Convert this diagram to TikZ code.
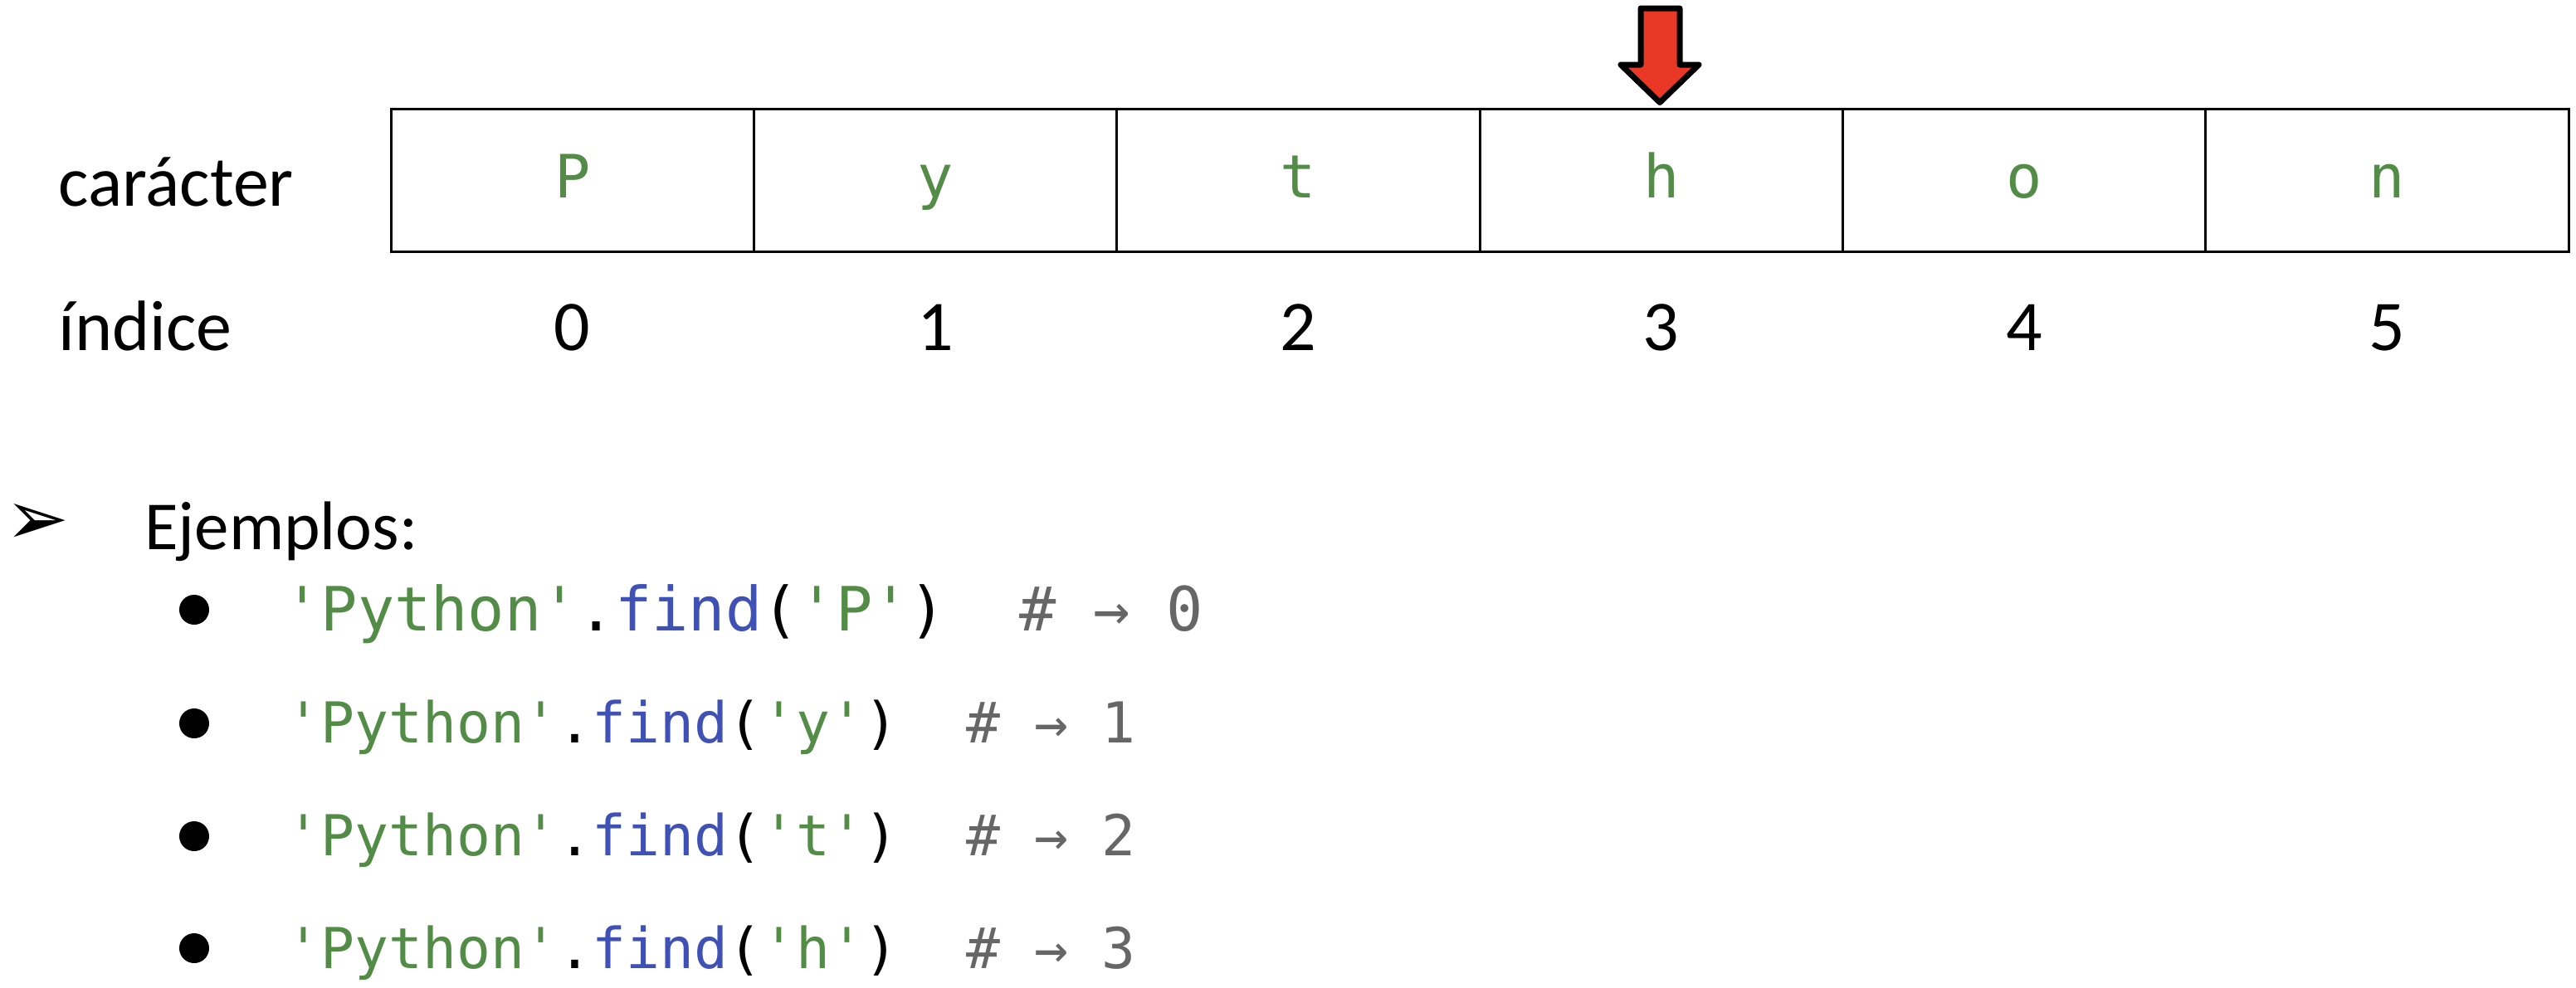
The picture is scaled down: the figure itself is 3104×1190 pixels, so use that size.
\documentclass[tikz,border=0pt]{standalone}
\usepackage{fontspec}
\setmainfont{Carlito}
\newfontfamily\codefont{DejaVu Sans Mono}
\newfontfamily\symfont{DejaVu Sans}
\definecolor{codegreen}{RGB}{82,140,70}
\definecolor{codeblue}{RGB}{63,81,181}
\definecolor{codegrey}{RGB}{102,102,102}
\definecolor{arrowred}{RGB}{233,56,38}
\tikzset{
  cell/.style={draw, line width=1.5pt, minimum width=218.67pt, minimum height=86pt, inner sep=0pt},
  celltxt/.style={anchor=base, inner sep=0pt, text=codegreen, font=\codefont\fontsize{36}{40}\selectfont},
  idx/.style={anchor=base, inner sep=0pt, font=\fontsize{43}{48}\selectfont},
  lbl/.style={anchor=base west, inner sep=0pt, font=\fontsize{43}{48}\selectfont},
  head/.style={anchor=base west, inner sep=0pt, font=\fontsize{41.5}{46}\selectfont},
  codeA/.style={anchor=base west, inner sep=0pt, font=\codefont\fontsize{36.8}{40}\selectfont},
  codeB/.style={anchor=base west, inner sep=0pt, font=\codefont\fontsize{34}{38}\selectfont},
  dot/.style={circle, fill=black, inner sep=0pt, minimum size=18pt},
  ptr/.style={draw=black, fill=arrowred, line width=3.5pt, line join=round},
}
\newcommand{\gr}[1]{\textcolor{codegreen}{#1}}
\newcommand{\bl}[1]{\textcolor{codeblue}{#1}}
\newcommand{\cm}[1]{\textcolor{codegrey}{#1}}
\begin{document}
\begin{tikzpicture}[x=0.5pt,y=-0.5pt]
\useasboundingbox (0,0) rectangle (3104,1190);
% table cells
\foreach \i/\ch in {0/P,1/y,2/t,3/h,4/o,5/n}{
  \node[cell] (c\i) at ({471+437.33*(\i+0.5)},217) {};
  \node[celltxt] (t\i) at ({471+437.33*(\i+0.5)},238) {\ch};
  \node[idx] (n\i) at ({471+437.33*(\i+0.5)},422) {\i};
}
\node[lbl] (lchar) at (70,248) {carácter};
\node[lbl] (lidx) at (70,422) {índice};
% pointer arrow
\draw[ptr] (1977,10) -- (2024,10) -- (2024,78) -- (2047,78) -- (2000,123.5) -- (1953,78) -- (1977,78) -- cycle;
% examples
\node[anchor=center, inner sep=0pt, font=\symfont\fontsize{46}{50}\selectfont] (arr) at (45,632) {➢};
\node[head] (ej) at (174,662) {Ejemplos:};
\node[dot] (d1) at (234,735) {};
\node[dot] (d2) at (234,872) {};
\node[dot] (d3) at (234,1008) {};
\node[dot] (d4) at (234,1143) {};
\node[codeA] (e1) at (342,760) {\gr{'Python'}.\bl{find}(\gr{'P'})\ \ \cm{\# → 0}};
\node[codeB] (e2) at (345,895) {\gr{'Python'}.\bl{find}(\gr{'y'})\ \ \cm{\# → 1}};
\node[codeB] (e3) at (345,1031) {\gr{'Python'}.\bl{find}(\gr{'t'})\ \ \cm{\# → 2}};
\node[codeB] (e4) at (345,1167) {\gr{'Python'}.\bl{find}(\gr{'h'})\ \ \cm{\# → 3}};
\end{tikzpicture}
\end{document}
